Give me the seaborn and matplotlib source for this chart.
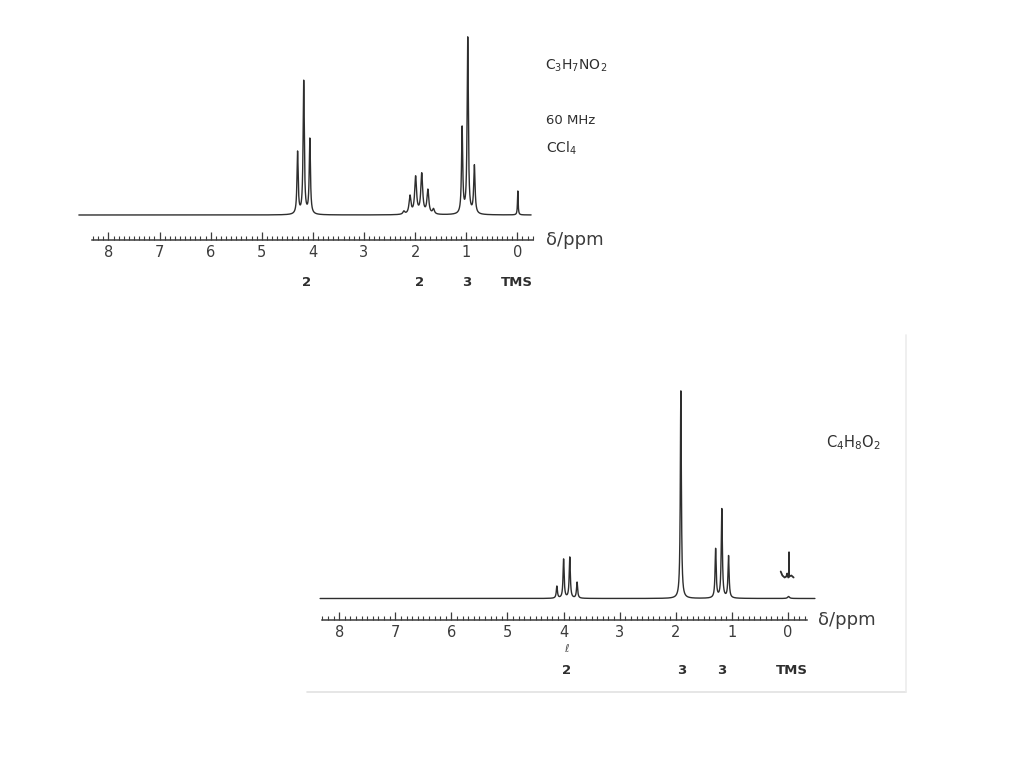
import matplotlib
matplotlib.use("Agg")

import numpy as np
import pandas as pd
import matplotlib.pyplot as plt
from matplotlib import transforms
import seaborn as sns

# --- data: peak position (ppm) and height above baseline ---
# upper spectrum, C3H7NO2 (triplet, sextet, triplet, TMS)
top_ppm = [4.30, 4.18, 4.06, 2.22, 2.10, 1.99, 1.87, 1.75, 1.64, 1.08, 0.97, 0.84, -0.01]
top_height = [62, 133, 75, 3, 18, 37, 40, 24, 5, 86, 176, 48, 24]
top_hwhm = [0.014, 0.014, 0.014, 0.022, 0.022, 0.022, 0.022, 0.022, 0.022, 0.014, 0.014, 0.016, 0.008]

# lower spectrum, C4H8O2 (quartet, singlet, triplet, TMS)
bot_ppm = [4.12, 4.00, 3.89, 3.76, 1.91, 1.29, 1.18, 1.06, -0.01]
bot_height = [12, 39, 41, 16, 208, 49, 89, 42, 2]
bot_hwhm = [0.012, 0.012, 0.012, 0.012, 0.011, 0.012, 0.012, 0.012, 0.02]

# small integral trace drawn over the TMS signal of the lower spectrum
integ_ppm = [0.13, 0.10, 0.06, 0.03, 0.015, -0.005, -0.018, -0.018, -0.018, -0.06, -0.10]
integ_h = [27, 23, 21, 22, 25, 21, 22, 46, 22, 23, 21]

# axis ruler
tick_values = [8, 7, 6, 5, 4, 3, 2, 1, 0]
tick_labels = ["8", "7", "6", "5", "4", "3", "2", "1", "0"]

# integration numbers under each ruler
top_int_labels = ["2", "2", "3", "TMS"]
top_int_ppm = [4.13, 1.92, 0.99, 0.01]
bot_int_labels = ["2", "3", "3", "TMS"]
bot_int_ppm = [3.94, 1.89, 1.18, -0.07]

W, H = 1024, 767
INK = "#2e2e2e"
GREY = "#3c3c3c"


def spectrum(grid, centers, heights, widths):
    # sum of lorentzian lines
    y = np.zeros_like(grid)
    for c, h, w in zip(centers, heights, widths):
        y += h * w**2 / ((grid - c) ** 2 + w**2)
    return y


def make_axes(fig, px_left, px_right, px_top, px_ruler, ppm0_px, px_per_ppm, base_px):
    ax = fig.add_axes([px_left / W, 1 - px_ruler / H,
                       (px_right - px_left) / W, (px_ruler - px_top) / H])
    ax.set_xlim((ppm0_px - px_left) / px_per_ppm, (ppm0_px - px_right) / px_per_ppm)
    ax.set_ylim(-base_px, px_ruler - px_top - base_px)
    ax.set_facecolor("none")
    for s in ["left", "right", "top"]:
        ax.spines[s].set_visible(False)
    ax.spines["bottom"].set_color(GREY)
    ax.spines["bottom"].set_linewidth(1.1)
    ax.set_yticks([])
    ax.set_xticks(tick_values, labels=tick_labels)
    ax.set_xticks(np.round(np.arange(-0.3, 8.31, 0.1), 1), minor=True)
    ax.tick_params(axis="x", which="both", bottom=True, top=False)
    ax.tick_params(axis="x", which="major", direction="in", length=5.5, width=0.9,
                   pad=3.5, labelsize=10.5, colors=GREY)
    ax.tick_params(axis="x", which="minor", direction="in", length=2.6, width=0.8, colors=GREY)
    return ax


sns.set_style("white")
plt.rcParams["font.family"] = ["DejaVu Sans"]

fig = plt.figure(figsize=(W / 100, H / 100), dpi=100)
fig.patch.set_facecolor("white")

# ---------------- upper spectrum ----------------
ax1 = make_axes(fig, 70, 540, 25, 240, 517.3, 51.1, 25)
ax1.spines["bottom"].set_bounds(-0.31, 8.33)
g1 = np.linspace(8.58, -0.27, 9000)
df1 = pd.DataFrame({"ppm": g1, "I": spectrum(g1, top_ppm, top_height, top_hwhm)})
sns.lineplot(data=df1, x="ppm", y="I", ax=ax1, color=INK, lw=1.0,
             estimator=None, sort=False)
ax1.set_xlabel("")
ax1.set_ylabel("")

# ---------------- lower spectrum ----------------
ax2 = make_axes(fig, 310, 830, 375, 620, 788.0, 56.1, 21.5)
ax2.spines["bottom"].set_bounds(-0.33, 8.31)
g2 = np.linspace(8.34, -0.48, 9000)
df2 = pd.DataFrame({"ppm": g2, "I": spectrum(g2, bot_ppm, bot_height, bot_hwhm)})
sns.lineplot(data=df2, x="ppm", y="I", ax=ax2, color=INK, lw=1.0,
             estimator=None, sort=False)
sns.lineplot(x=integ_ppm, y=integ_h, ax=ax2, color=INK, lw=1.3,
             estimator=None, sort=False)
ax2.set_xlabel("")
ax2.set_ylabel("")

# ---------------- texts ----------------
def fig_xy(x, y):
    return x / W, 1 - y / H

txt = dict(transform=fig.transFigure, color=INK, va="center", ha="left")
fig.text(*fig_xy(546, 240), "δ/ppm", fontsize=13, color=GREY,
         transform=fig.transFigure, va="center", ha="left")
fig.text(*fig_xy(818, 620), "δ/ppm", fontsize=13, color=GREY,
         transform=fig.transFigure, va="center", ha="left")
fig.text(*fig_xy(545, 66), r"C$_3$H$_7$NO$_2$", fontsize=10, **txt)
fig.text(*fig_xy(546, 121), "60 MHz", fontsize=9.5, **txt)
fig.text(*fig_xy(546, 148), r"CCl$_4$", fontsize=10, **txt)
fig.text(*fig_xy(826, 443), r"C$_4$H$_8$O$_2$", fontsize=10.5, **txt)

tr1 = transforms.blended_transform_factory(ax1.transData, fig.transFigure)
for lab, p in zip(top_int_labels, top_int_ppm):
    ax1.text(p, 1 - 283 / H, lab, transform=tr1, ha="center", va="center",
             fontsize=9.5, fontweight="bold", color=INK)
tr2 = transforms.blended_transform_factory(ax2.transData, fig.transFigure)
for lab, p in zip(bot_int_labels, bot_int_ppm):
    ax2.text(p, 1 - 670 / H, lab, transform=tr2, ha="center", va="center",
             fontsize=9.5, fontweight="bold", color=INK)
ax2.text(3.94, 1 - 649 / H, "ℓ", transform=tr2, ha="center", va="center",
         fontsize=8, color="#555555")

# faint edge of the scanned page around the lower spectrum
fig.add_artist(plt.Line2D([307 / W, 906 / W], [1 - 692 / H] * 2,
                          transform=fig.transFigure, color="#e2e2e2", lw=1.2))
fig.add_artist(plt.Line2D([906 / W] * 2, [1 - 335 / H, 1 - 692 / H],
                          transform=fig.transFigure, color="#ececec", lw=1.2))

fig.savefig("out.png", dpi=100, facecolor="white")
